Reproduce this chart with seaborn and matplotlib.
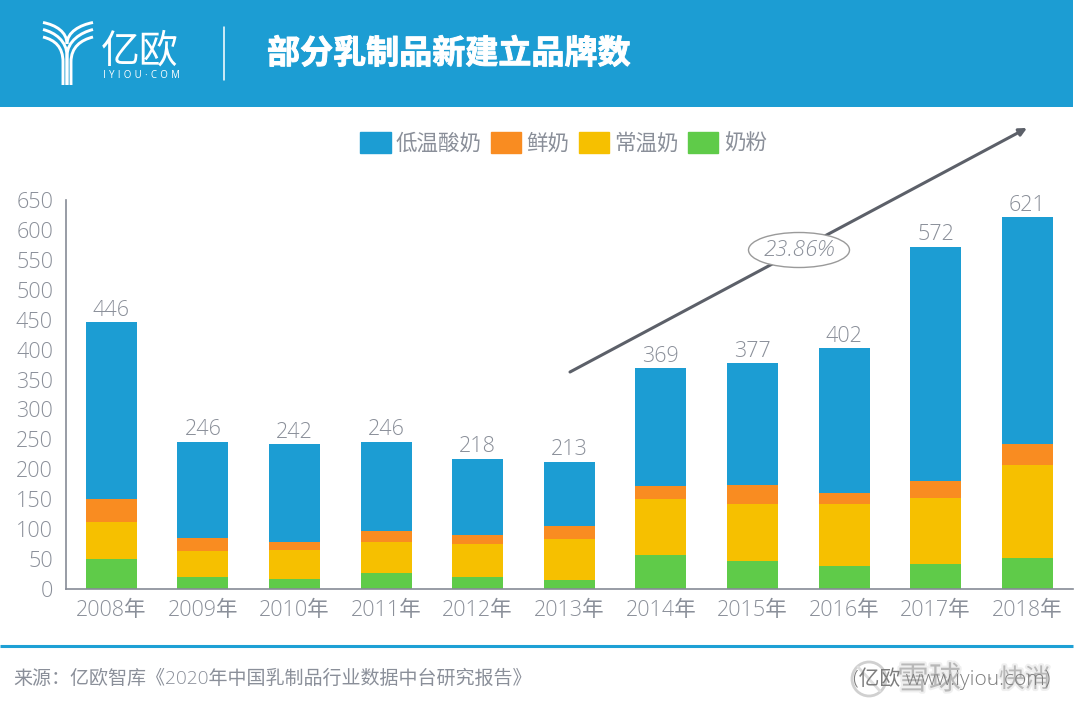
import numpy as np
import pandas as pd
import matplotlib
matplotlib.use("Agg")
import matplotlib.pyplot as plt
import matplotlib.patheffects as pe
import seaborn as sns
from matplotlib.patches import Ellipse, Patch, PathPatch, Rectangle
from matplotlib.path import Path

# ==========================================
# DATA
# ==========================================

YEARS = ["2008年", "2009年", "2010年", "2011年", "2012年", "2013年",
         "2014年", "2015年", "2016年", "2017年", "2018年"]
POWDER = [50, 20, 17, 27, 20, 15, 56, 47, 39, 41, 51]
AMBIENT = [62, 43, 49, 51, 55, 68, 95, 95, 103, 111, 157]
FRESH = [39, 23, 12, 19, 15, 22, 21, 32, 19, 29, 34]
YOGURT = [295, 160, 164, 149, 128, 108, 197, 203, 241, 391, 379]
TOTALS = [446, 246, 242, 246, 218, 213, 369, 377, 402, 572, 621]

SERIES_NAMES = ["低温酸奶", "鲜奶", "常温奶", "奶粉"]
COLORS = {"低温酸奶": "#1c9dd3", "鲜奶": "#f98c21", "常温奶": "#f6c000", "奶粉": "#5fcb49"}
Y_TICKS = list(range(0, 651, 50))
CAGR_LABEL = "23.86%"
TITLE = "部分乳制品新建立品牌数"
SOURCE = "来源：亿欧智库《2020年中国乳制品行业数据中台研究报告》"

# ==========================================
# LAYOUT (pixels, measured from the top left)
# ==========================================

W, H = 1080, 713
RIGHT = 1073  # the artwork stops here, a white strip is left on the right
GREY = "#8a8f99"
BLUE = "#1c9dd3"


def fx(px):
    return px / W


def fy(py):
    return 1 - py / H


sns.set_theme(style="white")
plt.rcParams["font.family"] = ["Open Sans", "Noto Sans CJK SC", "DejaVu Sans"]

fig = plt.figure(figsize=(W / 100, H / 100), dpi=100)
ax = fig.add_axes([fx(65.5), fy(589), (RIGHT - 65.5) / W, (589 - 200) / H])

# ==========================================
# STACKED BARS
# ==========================================

df = pd.DataFrame({"year": YEARS, "奶粉": POWDER, "常温奶": AMBIENT,
                   "鲜奶": FRESH, "低温酸奶": YOGURT})
bottom = np.zeros(len(YEARS))
for name in ["奶粉", "常温奶", "鲜奶", "低温酸奶"]:
    sns.barplot(data=df, x="year", y=name, color=COLORS[name], bottom=bottom,
                width=0.557, saturation=1, ax=ax, linewidth=0)
    bottom = bottom + df[name].to_numpy()

for i, total in enumerate(TOTALS):
    ax.annotate(str(total), (i, bottom[i]), xytext=(0, 1), textcoords="offset points",
                ha="center", va="bottom", fontsize=15.5, color=GREY, fontweight="light")

ax.set_xlim(-0.5, len(YEARS) - 0.5)
ax.set_ylim(0, 650)
ax.set_yticks(Y_TICKS)
ax.set_xlabel("")
ax.set_ylabel("")
ax.tick_params(axis="both", length=0, labelsize=15.5, labelcolor=GREY)
ax.tick_params(axis="x", pad=8)
ax.tick_params(axis="y", pad=9)
for label in ax.get_xticklabels() + ax.get_yticklabels():
    label.set_fontweight("light")
sns.despine(ax=ax)
for side in ["left", "bottom"]:
    ax.spines[side].set_color("#868b96")
    ax.spines[side].set_linewidth(1.2)

# ==========================================
# LEGEND
# ==========================================

handles = [Patch(color=COLORS[name], label=name) for name in SERIES_NAMES]
fig.legend(handles=handles, loc="center left", bbox_to_anchor=(fx(341), fy(143)),
           ncol=4, frameon=False, fontsize=15.5, labelcolor=GREY,
           handlelength=1.4, handleheight=1.15, handletextpad=0.25,
           columnspacing=0.43, borderpad=0.4)

# ==========================================
# FIGURE DECORATION (header, arrow, footer)
# ==========================================

fig.add_artist(Rectangle((0, fy(107)), RIGHT / W, 107 / H, transform=fig.transFigure,
                         color=BLUE, lw=0, zorder=-1))

ax_fig = fig.add_axes([0, 0, 1, 1], facecolor="none")
ax_fig.set_axis_off()
ax_fig.set_xlim(0, W)
ax_fig.set_ylim(H, 0)

ax_fig.plot([224, 224], [27, 80], color="white", lw=1.1)
ax_fig.text(267, 54, TITLE, color="white", fontsize=23.8, fontweight="bold",
            va="center", ha="left", family="Noto Sans CJK SC",
            path_effects=[pe.withStroke(linewidth=0.7, foreground="white")])

# logo mark, nested Y strands
for y_end, x_left, x_right, y_join in [(37, 63, 71, 62), (29.5, 67, 67, 56)]:
    for x_end, x_trunk, bend in [(43, x_left, 12), (93, x_right, -12)]:
        strand = Path([(x_end, y_end), (x_end + bend, y_end + 3), (x_trunk, y_join - 15),
                       (x_trunk, y_join), (x_trunk, 85)],
                      [Path.MOVETO, Path.CURVE4, Path.CURVE4, Path.CURVE4, Path.LINETO])
        ax_fig.add_patch(PathPatch(strand, fill=False, edgecolor="white", lw=2.1, capstyle="butt"))
for x_end, bend in [(43, 13), (93, -13)]:
    strand = Path([(x_end, 22.5), (x_end + bend, 25), (67, 32), (67, 44)],
                  [Path.MOVETO, Path.CURVE4, Path.CURVE4, Path.CURVE4])
    ax_fig.add_patch(PathPatch(strand, fill=False, edgecolor="white", lw=2.1, capstyle="butt"))
ax_fig.text(101, 52, "亿欧", color="white", fontsize=28, fontweight="light",
            va="center", ha="left", family="Noto Sans CJK SC")
ax_fig.text(103, 76, "\u2004".join("IYIOU·COM"), color="white", fontsize=7,
            va="center", ha="left")

# growth arrow with the rate in an ellipse
ax_fig.annotate("", xy=(1027, 128), xytext=(570, 372),
                arrowprops=dict(arrowstyle="-|>", color="#5c6069", lw=2.2, mutation_scale=11,
                                shrinkA=0, shrinkB=0))
ax_fig.add_patch(Ellipse((799, 250), 101, 35, facecolor="white", edgecolor="#9a9a9a", lw=1, zorder=3))
ax_fig.text(799, 250, CAGR_LABEL, ha="center", va="center", fontsize=16, style="italic",
            color=GREY, fontweight="light", zorder=4)

# footer
ax_fig.plot([0, RIGHT], [646, 646], color="#1ea0d5", lw=2.2, solid_capstyle="butt")
ax_fig.text(13, 679, SOURCE, ha="left", va="center", fontsize=13.7, color=GREY, fontweight="light")

# watermark sits under the small site credit
shadow = [pe.withStroke(linewidth=3, foreground="#efefef")]
ax_fig.add_patch(Ellipse((869, 679), 34, 34, facecolor="white", edgecolor="#d0d0d0", lw=2, zorder=2))
ax_fig.plot([858, 880], [667, 691], color="#dddddd", lw=2, zorder=2)
ax_fig.text(897, 680, "雪球", ha="left", va="center", fontsize=23, color="#b8b8b8",
            family="Noto Sans CJK SC", path_effects=shadow, zorder=3)
ax_fig.text(989, 680, "·", ha="center", va="center", fontsize=16, color="#b8b8b8", zorder=3)
ax_fig.text(999, 680, "快消", ha="left", va="center", fontsize=18.5, color="#b8b8b8",
            family="Noto Sans CJK SC", path_effects=shadow, zorder=3)
ax_fig.text(853, 679, "(亿欧 www.iyiou.com)", ha="left", va="center", fontsize=15, color="#7d7d7d",
            fontweight="light", zorder=4)

fig.savefig("out.png", dpi=100)
